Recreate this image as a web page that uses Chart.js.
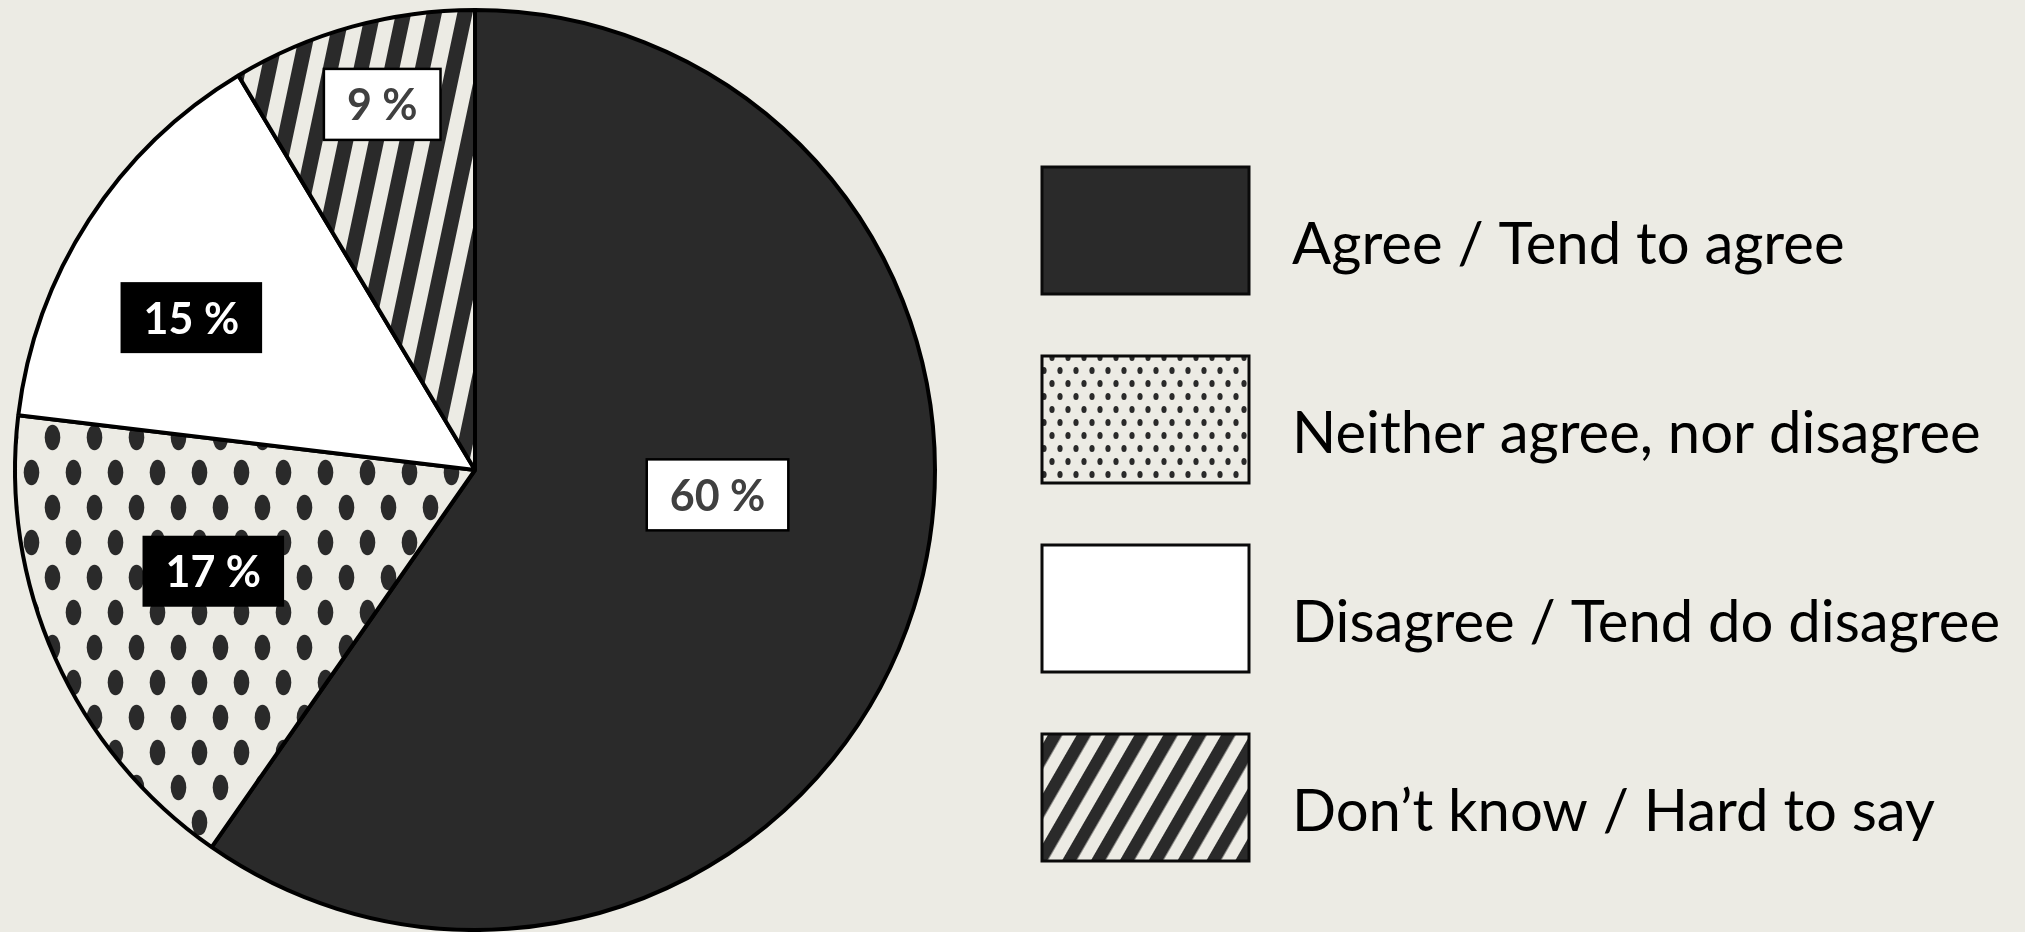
<!DOCTYPE html>
<html>
<head>
<meta charset="utf-8">
<title>Survey answers</title>
<script src="https://cdn.jsdelivr.net/npm/chart.js@4.4.1/dist/chart.umd.min.js"></script>
<style>
  html, body { margin: 0; padding: 0; background: #ECEBE4; }
  #wrap { width: 2025px; height: 932px; position: relative; }
</style>
</head>
<body>
<div id="wrap"><canvas id="myChart"></canvas></div>
<script>
// Data (slice sizes, labels are the rounded values)
var categories = ['Agree / Tend to agree', 'Neither agree, nor disagree', 'Disagree / Tend do disagree', 'Don\u2019t know / Hard to say'];
var shares = [59.7, 17.2, 14.5, 8.6];
var valueLabels = shares.map(function(v) { return Math.round(v) + ' %'; });

var bg = '#ECEBE4';
var ink = '#2A2A2A';

// staggered ellipse dots
function dotPattern(w, h, rx, ry) {
  var c = document.createElement('canvas');
  c.width = w; c.height = h;
  var g = c.getContext('2d');
  g.fillStyle = bg;
  g.fillRect(0, 0, w, h);
  g.fillStyle = ink;
  g.beginPath(); g.ellipse(w / 4, h / 4, rx, ry, 0, 0, Math.PI * 2); g.fill();
  g.beginPath(); g.ellipse(w * 3 / 4, h * 3 / 4, rx, ry, 0, 0, Math.PI * 2); g.fill();
  return g.createPattern(c, 'repeat');
}

// diagonal stripes, angle in degrees from vertical
function stripePattern(period, angle) {
  var c = document.createElement('canvas');
  c.width = period; c.height = 4;
  var g = c.getContext('2d');
  g.fillStyle = bg;
  g.fillRect(0, 0, period, 4);
  g.fillStyle = ink;
  g.fillRect(0, 0, period / 2, 4);
  var p = g.createPattern(c, 'repeat');
  p.setTransform(new DOMMatrix().rotate(angle));
  return p;
}

var sliceFills = [ink, dotPattern(42, 70, 7.8, 12.8), '#FFFFFF', stripePattern(30, 12)];
var legendFills = [ink, dotPattern(16, 26, 2.6, 3.6), '#FFFFFF', stripePattern(25, 30)];

// where each value label sits: fraction of radius, fraction along the slice
var labelSpots = [[0.53, 0.446], [0.61, 0.548], [0.70, 0.41], [0.82, 0.54]];
var labelDark = [false, true, true, false];

var sliceLabels = {
  id: 'sliceLabels',
  afterDatasetsDraw: function(chart) {
    var ctx = chart.ctx;
    var meta = chart.getDatasetMeta(0);
    ctx.save();
    ctx.font = 'bold 43px Lato';
    ctx.textAlign = 'center';
    ctx.textBaseline = 'middle';
    meta.data.forEach(function(arc, i) {
      var p = arc.getProps(['x', 'y', 'startAngle', 'endAngle', 'outerRadius'], true);
      var a = p.startAngle + labelSpots[i][1] * (p.endAngle - p.startAngle);
      var r = labelSpots[i][0] * p.outerRadius;
      var cx = p.x + Math.cos(a) * r;
      var cy = p.y + Math.sin(a) * r;
      var w = ctx.measureText(valueLabels[i]).width + 46;
      var h = 71;
      if (labelDark[i]) {
        ctx.fillStyle = '#000000';
        ctx.fillRect(cx - w / 2, cy - h / 2, w, h);
        ctx.fillStyle = '#FFFFFF';
      } else {
        ctx.fillStyle = '#FFFFFF';
        ctx.fillRect(cx - w / 2, cy - h / 2, w, h);
        ctx.lineWidth = 2.5;
        ctx.strokeStyle = '#000000';
        ctx.strokeRect(cx - w / 2, cy - h / 2, w, h);
        ctx.fillStyle = '#404040';
      }
      ctx.fillText(valueLabels[i], cx, cy + 2);
    });
    ctx.restore();
  }
};

// legend on the right, big swatches
var legendX = 1042, legendTop = 167, legendGap = 189, boxW = 207, boxH = 127, textX = 1292;

var sideLegend = {
  id: 'sideLegend',
  afterDraw: function(chart) {
    var ctx = chart.ctx;
    ctx.save();
    categories.forEach(function(name, i) {
      var top = legendTop + i * legendGap;
      ctx.fillStyle = legendFills[i];
      ctx.fillRect(legendX, top, boxW, boxH);
      ctx.lineWidth = 3;
      ctx.strokeStyle = '#0A0A0A';
      ctx.strokeRect(legendX, top, boxW, boxH);
      ctx.fillStyle = '#000000';
      ctx.font = '58px Lato';
      ctx.textAlign = 'left';
      ctx.textBaseline = 'alphabetic';
      ctx.fillText(name, textX, top + 97);
    });
    ctx.restore();
  }
};

var ctx = document.getElementById('myChart').getContext('2d');
var myChart = new Chart(ctx, {
  type: 'pie',
  data: {
    labels: categories,
    datasets: [{
      data: shares,
      backgroundColor: sliceFills,
      borderColor: '#000000',
      borderWidth: 4
    }]
  },
  options: {
    responsive: true,
    maintainAspectRatio: false,
    animation: false,
    layout: { padding: { left: 0, top: 8, bottom: 0, right: 1075 } },
    plugins: {
      legend: { display: false },
      tooltip: { enabled: false }
    }
  },
  plugins: [sliceLabels, sideLegend]
});
</script>
</body>
</html>
